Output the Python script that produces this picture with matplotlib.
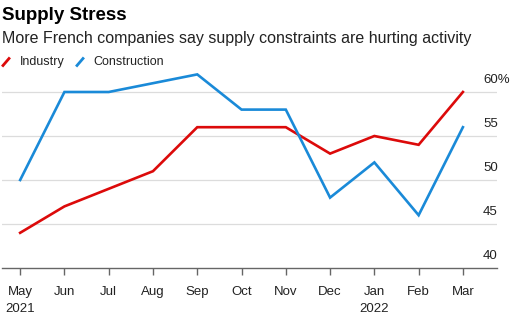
import matplotlib.pyplot as plt
from matplotlib.lines import Line2D

months = ['May\n2021', 'Jun', 'Jul', 'Aug', 'Sep', 'Oct', 'Nov', 'Dec', 'Jan\n2022', 'Feb', 'Mar']
industry = [44, 47, 49, 51, 56, 56, 56, 53, 55, 54, 60]
construction = [50, 60, 60, 61, 62, 58, 58, 48, 52, 46, 56]
yticks = [40, 45, 50, 55, 60]
ylabels = ['40', '45', '50', '55', '60%']

RED = '#dc0a0a'
BLUE = '#1a8ad8'

plt.rcParams['font.family'] = ['Liberation Sans', 'DejaVu Sans']

fig = plt.figure(figsize=(5.17, 3.28), dpi=100)
W, H = 517, 328
ax = fig.add_axes([2 / W, 1 - 268 / H, 495 / W, (268 - 65.6) / H])

x = list(range(len(months)))
ax.plot(x, industry, color=RED, lw=1.9, solid_joinstyle='miter', zorder=3)
ax.plot(x, construction, color=BLUE, lw=1.9, solid_joinstyle='miter', zorder=3)

ax.set_xlim(-0.41, 10.77)
ax.set_ylim(40, 63)

# grid lines
for v in yticks[1:]:
    ax.axhline(v, color='#dcdcdc', lw=0.9, zorder=1)

# y labels sitting above lines on the right
for v, lab in zip(yticks, ylabels):
    ax.text(483 / 495 - 2 / 495, v + 1.4, lab,
            transform=ax.get_yaxis_transform(), ha='left', va='center',
            fontsize=9.5, color='#222222')
ax.set_yticks([])

for s in ['top', 'right', 'left']:
    ax.spines[s].set_visible(False)
ax.spines['bottom'].set_color('#666666')
ax.spines['bottom'].set_linewidth(1.0)

ax.set_xticks(x)
ax.set_xticklabels(months, fontsize=9.5, color='#222222', linespacing=1.6)
ax.tick_params(axis='x', length=5, width=1, color='#666666', pad=8)

# title, subtitle
fig.text(2 / W, 1 - 16 / H, 'Supply Stress', fontsize=13.5, fontweight='bold',
         va='center', ha='left', color='#000000')
fig.text(2 / W, 1 - 38 / H, 'More French companies say supply constraints are hurting activity',
         fontsize=11.5, va='center', ha='left', color='#222222')

# legend
ly = 1 - 62 / H
fig.add_artist(Line2D([3 / W, 9 / W], [ly - 3.5 / H, ly + 3.5 / H], color=RED, lw=2, transform=fig.transFigure))
fig.text(20 / W, ly, 'Industry', fontsize=9, va='center', ha='left', color='#222222')
fig.add_artist(Line2D([77 / W, 83 / W], [ly - 3.5 / H, ly + 3.5 / H], color=BLUE, lw=2, transform=fig.transFigure))
fig.text(93 / W, ly, 'Construction', fontsize=9, va='center', ha='left', color='#222222')

fig.savefig('out.png', dpi=100)
